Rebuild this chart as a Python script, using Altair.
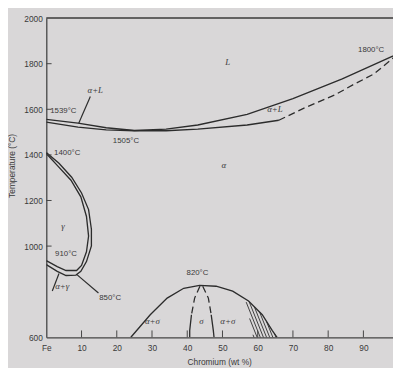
import altair as alt
import pandas as pd
import numpy as np

# ---- data (Cr wt %, temperature °C) ----
liq_cr = [0, 9, 17, 25, 34, 43, 57, 70, 84, 100]
liq_t = [1556, 1539, 1519, 1507, 1513, 1531, 1578, 1647, 1733, 1845]

sol_cr = [0, 9, 17, 25, 34, 43, 57, 66]
sol_t = [1544, 1522, 1510, 1506, 1506, 1513, 1531, 1552]

sol_dash_cr = [66, 73, 82, 87, 93, 100]
sol_dash_t = [1552, 1604, 1664, 1707, 1755, 1845]

gam_out_cr = [0, 3.6, 7.2, 10.0, 12.0, 12.8, 12.8, 11.4, 9.8, 8.4, 5.6, 3.1, 0]
gam_out_t = [1410, 1363, 1302, 1233, 1160, 1074, 1001, 932, 889, 873, 871, 889, 919]

gam_in_cr = [0, 3.1, 7.0, 9.8, 11.4, 12.0, 11.4, 10.0, 8.6, 5.6, 3.1, 0]
gam_in_t = [1406, 1354, 1289, 1216, 1130, 1044, 975, 915, 893, 893, 910, 936]

dome_cr = [24.0, 29.5, 34.3, 39.0, 43.5, 48.2, 52.9, 57.4, 61.3, 64.1, 65.5]
dome_t = [600, 699, 772, 815, 828, 824, 802, 759, 699, 630, 600]

sig_l_cr = [43.6, 42.1, 41.2, 40.7, 40.7]
sig_r_cr = [44.4, 46.0, 46.8, 47.4, 47.6]
sig_t = [824, 772, 699, 630, 600]

# leader lines (start / end)
lead_cr = [[12.5, 9.2], [1.7, 3.6], [8.6, 14.8]]
lead_t = [[1656, 1539], [803, 880], [876, 794]]

# hatched band boundary (left edge of hatching)
hatch_left_cr = [56.6, 58.8]
hatch_left_t = [764, 600]

temp_labels = ["1539°C", "1400°C", "1505°C", "1800°C", "910°C", "850°C", "820°C"]
temp_cr = [1.1, 2.2, 22.6, 92.2, 5.6, 15.0, 42.9]
temp_t = [1591, 1406, 1462, 1862, 966, 772, 880]
temp_align = ["left", "left", "center", "center", "center", "left", "center"]

phase_labels = ["L", "α+L", "α+L", "α", "γ", "α+γ", "α+σ", "σ", "α+σ"]
phase_cr = [51.5, 13.9, 64.9, 50.4, 4.7, 4.5, 30.1, 44.0, 51.5]
phase_t = [1806, 1686, 1600, 1354, 1087, 824, 673, 673, 673]

x_ticks = [10, 20, 30, 40, 50, 60, 70, 80, 90]
y_ticks = [1000, 1200, 1400, 1600, 1800]
y_label_values = [600, 1000, 1200, 1400, 1600, 1800, 2000]
x_label_values = [0, 10, 20, 30, 40, 50, 60, 70, 80, 90]

X_MAX = 98.4
W, H = 353, 325
LINE = "#2c2c2c"
TXT = "#3a3a3a"
BG = "#d9d7d8"


def seg(name, xs, ys):
    return pd.DataFrame({"cr": xs, "t": ys, "seg": name, "o": range(len(xs))})


solid = pd.concat([
    seg("liq", liq_cr, liq_t),
    seg("sol", sol_cr, sol_t),
    seg("gout", gam_out_cr, gam_out_t),
    seg("gin", gam_in_cr, gam_in_t),
    seg("dome", dome_cr, dome_t),
    seg("sl", sig_l_cr[2:], sig_t[2:]),
    seg("sr", sig_r_cr[2:], sig_t[2:]),
])
dashed = pd.concat([
    seg("sold", sol_dash_cr, sol_dash_t),
    seg("sld", sig_l_cr[:3], sig_t[:3]),
    seg("srd", sig_r_cr[:3], sig_t[:3]),
])
leaders = pd.concat([seg(f"l{i}", c, t) for i, (c, t) in enumerate(zip(lead_cr, lead_t))])

# hatch lines: parallel strokes clipped to the band between the left edge and the dome
sx, sy = W / X_MAX, H / 1400.0
r_cr = np.array(dome_cr[4:])
r_t = np.array(dome_t[4:])
hl = []
ys = np.linspace(0, (hatch_left_t[0] - 600) * sy + 3, 400)
for k, c in enumerate(np.arange(hatch_left_cr[0] * sx - 14, r_cr[-1] * sx + 2, 3.2)):
    xline = c - ys / 2.5  # slope of strokes (down-right)
    tt = 600 + ys / sy
    xl = np.interp(tt, hatch_left_t[::-1], hatch_left_cr[::-1]) * sx
    xr = np.interp(tt, r_t[::-1], r_cr[::-1]) * sx
    inside = (xline >= xl) & (xline <= xr) & (tt <= np.interp(xline / sx, dome_cr, dome_t))
    if inside.sum() > 2:
        idx = np.where(inside)[0]
        a, b = idx[0], idx[-1]
        hl.append(pd.DataFrame({"cr": [xline[a] / sx, xline[b] / sx],
                                "t": [tt[a], tt[b]], "seg": f"h{k}", "o": [0, 1]}))
hatch = pd.concat(hl)

xs = alt.Scale(domain=[0, X_MAX], nice=False, zero=False)
ysc = alt.Scale(domain=[600, 2000], nice=False, zero=False)

x_axis = alt.Axis(
    values=x_label_values, labelExpr="datum.value == 0 ? 'Fe' : format(datum.value, 'd')",
    labelOverlap=False, labelBound=False, labelFlush=False,
    ticks=False, tickSize=0, grid=False, domainColor="#444", domainWidth=1.3,
    labelFontSize=8.5, labelColor=TXT, labelPadding=6, labelFont="Liberation Sans",
    title="Chromium (wt %)", titleFontSize=8.5, titleFontWeight="normal",
    titleColor=TXT, titleFont="Liberation Sans", titleX=176, titleY=25,
    titleAlign="center", titleBaseline="middle")
y_axis = alt.Axis(
    values=y_label_values, format="d", labelOverlap=False, labelBound=False, labelFlush=False,
    ticks=False, tickSize=0, grid=False, domainColor="#444",
    domainWidth=1.3, labelFontSize=8.5, labelColor=TXT, labelPadding=4,
    labelFont="Liberation Sans",
    title="Temperature (°C)", titleFontSize=8.5, titleFontWeight="normal",
    titleColor=TXT, titleFont="Liberation Sans", titleX=-35, titleY=150,
    titleAlign="center", titleBaseline="middle", titleAngle=270)


def xe(f="cr"):
    return alt.X(f"{f}:Q", scale=xs, axis=x_axis)


def ye(f="t"):
    return alt.Y(f"{f}:Q", scale=ysc, axis=y_axis)


base_solid = alt.Chart(solid).mark_line(color=LINE, strokeWidth=1.35, clip=True).encode(
    x=xe(), y=ye(), detail="seg:N", order="o:Q")
base_dash = alt.Chart(dashed).mark_line(color=LINE, strokeWidth=1.3, strokeDash=[7, 4], clip=True).encode(
    x=xe(), y=ye(), detail="seg:N", order="o:Q")
lead = alt.Chart(leaders).mark_line(color=LINE, strokeWidth=1.2).encode(
    x=xe(), y=ye(), detail="seg:N", order="o:Q")
hatch_l = alt.Chart(hatch).mark_line(color=LINE, strokeWidth=0.9).encode(
    x=xe(), y=ye(), detail="seg:N", order="o:Q")

top = alt.Chart(pd.DataFrame({"t": [2000]})).mark_rule(color="#3a3a3a", strokeWidth=1.5).encode(
    y=ye())

xt = pd.DataFrame({"cr": x_ticks, "t0": 600, "t1": 630})
xtick = alt.Chart(xt).mark_rule(color="#444", strokeWidth=1).encode(
    x=xe(), y=ye("t0"), y2="t1:Q")
yt = pd.DataFrame({"t": y_ticks, "c0": 0, "c1": 1.5})
ytick = alt.Chart(yt).mark_rule(color="#444", strokeWidth=1).encode(
    y=ye(), x=xe("c0"), x2="c1:Q")

tl = pd.DataFrame({"txt": temp_labels, "cr": temp_cr, "t": temp_t, "al": temp_align})
temp_layers = []
for al in ["left", "center"]:
    temp_layers.append(alt.Chart(tl[tl.al == al]).mark_text(
        align=al, baseline="middle", fontSize=8, font="Liberation Sans", color=TXT).encode(
        x=xe(), y=ye(), text="txt:N"))

pl = pd.DataFrame({"txt": phase_labels, "cr": phase_cr, "t": phase_t})
phase = alt.Chart(pl).mark_text(
    align="center", baseline="middle", fontSize=9, font="Liberation Serif",
    fontStyle="italic", color=TXT).encode(
    x=xe(), y=ye(), text="txt:N")

chart = alt.layer(
    base_solid, base_dash, lead, hatch_l, top, xtick, ytick, *temp_layers, phase
).properties(
    width=W, height=H,
    autosize=alt.AutoSizeParams(type="none"),
    padding={"left": 39, "top": 7, "right": 0, "bottom": 28},
    background=BG,
).configure_view(stroke=None)

chart.save("out.html", embed_options={"renderer": "svg", "actions": False})
